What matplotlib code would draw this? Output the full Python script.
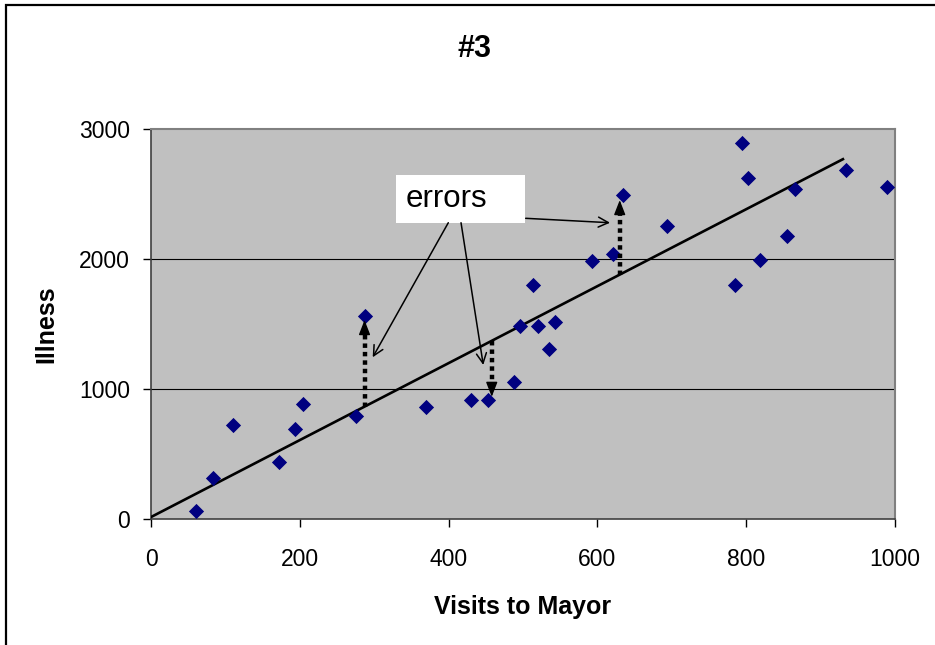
import numpy as np
import matplotlib.pyplot as plt
from matplotlib.patches import Rectangle

plt.rcParams['font.family'] = ['Liberation Sans', 'DejaVu Sans']

# Visits to Mayor vs. Illness
visits = [60, 84, 110, 172, 194, 204, 276, 288, 370, 430, 453, 488, 496, 514,
          520, 535, 543, 593, 621, 635, 693, 785, 795, 803, 818, 855, 866, 934, 989]
illness = [62, 318, 723, 441, 692, 887, 795, 1562, 859, 915, 915, 1051, 1487, 1802,
           1487, 1308, 1518, 1982, 2041, 2492, 2251, 1802, 2895, 2626, 1995, 2177, 2536, 2685, 2551]

# straight line drawn through the cloud
line_intercept = 15
line_slope = 2.96
line_x = [0, 930]

# vertical error arrows: x position and end value
err_x = [287, 458, 630]
err_tip = [1530, 940, 2453]

xticks = [0, 200, 400, 600, 800, 1000]
yticks = [0, 1000, 2000, 3000]

fig = plt.figure(figsize=(9.35, 6.45), dpi=100)
ax = fig.add_axes([151/935, 1 - 519/645, 744/935, 390/645])
ax.set_facecolor('#c0c0c0')

ax.set_xlim(0, 1000)
ax.set_ylim(0, 3000)
ax.set_xticks(xticks)
ax.set_yticks(yticks)
ax.tick_params(axis='both', direction='out', length=6, width=1, labelsize=16.5)
ax.tick_params(axis='x', pad=15)
ax.tick_params(axis='y', pad=9)

for y in yticks[1:3]:
    ax.axhline(y, color='black', lw=0.8, zorder=1)

for side in ['top', 'right']:
    ax.spines[side].set_color('#808080')
    ax.spines[side].set_linewidth(1.5)
for side in ['left', 'bottom']:
    ax.spines[side].set_color('#404040')
    ax.spines[side].set_linewidth(1.2)

lx = np.array(line_x)
ax.plot(lx, line_intercept + line_slope * lx, color='black', lw=1.9, zorder=3)

ax.scatter(visits, illness, marker='D', s=60, color='#000080', zorder=4, linewidths=0)

# dotted arrows from the line to the points: dotted shaft + solid head
head_len = 95
for x, tip in zip(err_x, err_tip):
    start = line_intercept + line_slope * x
    step = head_len if tip > start else -head_len
    ax.plot([x, x], [start, tip - step], color='black', lw=3.2,
            ls=(0, (1.0, 0.9)), solid_capstyle='butt', dash_capstyle='butt', zorder=5)
    ax.annotate('', xy=(x, tip), xytext=(x, tip - step),
                arrowprops=dict(arrowstyle='-|>,head_length=0.9,head_width=0.35', lw=1,
                                color='black', mutation_scale=10, shrinkA=0, shrinkB=0),
                zorder=5)

# label box and its pointers
ax.add_patch(Rectangle((329, 2277), 174, 369, facecolor='white', edgecolor='none', zorder=5))
ax.text(342, 2462, 'errors', fontsize=22.5, va='center', ha='left', zorder=6)
pointers = [((399.6, 2279), (298, 1244)),
            ((416.7, 2279), (446.6, 1185)),
            ((503.6, 2313), (617, 2279))]
for start, end in pointers:
    ax.annotate('', xy=end, xytext=start,
                arrowprops=dict(arrowstyle='->', lw=1.1, color='black',
                                mutation_scale=18, shrinkA=0, shrinkB=0),
                zorder=6)

ax.set_xlabel('Visits to Mayor', fontsize=18, fontweight='bold')
ax.set_ylabel('Illness', fontsize=18, fontweight='bold')
ax.xaxis.set_label_coords(0.5, -0.195)
ax.yaxis.set_label_coords(-0.124, 0.5)

fig.text(474/935, 1 - 49/645, '#3', fontsize=22, fontweight='bold', ha='center', va='center')

# chart frame
fig.patches.append(Rectangle((6/935, -0.1), 1.2, 1 - 5/645 + 0.1, transform=fig.transFigure,
                             facecolor='none', edgecolor='black', lw=1.6))

fig.savefig('out.png', dpi=100)
